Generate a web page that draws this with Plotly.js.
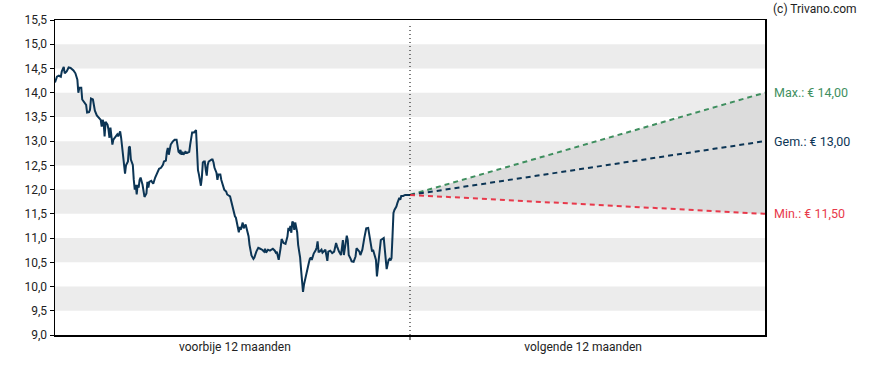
<!DOCTYPE html>
<html>
<head>
<meta charset="utf-8">
<script src="https://cdn.plot.ly/plotly-3.0.1.min.js"></script>
<style>
  html, body { margin: 0; padding: 0; background: #ffffff; }
  #chart { width: 888px; height: 370px; }
</style>
</head>
<body>
<div id="chart"></div>
<script>
// ---- Data ----
// History: day index over the past 12 months (0..365) and closing price (EUR)
const histDay = [0,2,4,6,7,9,10,12,14,16,19,21,23,24,25,27,28,30,32,33,35,36,37,39,41,43,45,47,48,49,50,51,52,54,55,56,57,58,59,60,62,64,65,66,67,68,70,71,72,73,75,76,77,78,79,80,81,82,83,84,85,86,87,88,90,91,92,94,95,96,97,99,101,103,105,107,109,111,112,114,115,116,117,118,119,121,123,125,126,127,128,129,130,131,132,134,136,138,139,140,141,143,144,145,146,147,148,149,150,151,152,153,154,155,156,157,158,161,162,163,164,166,167,168,170,171,173,174,176,177,180,182,184,185,186,187,188,189,190,191,193,194,196,197,198,199,200,201,202,204,205,207,209,211,213,215,216,217,219,221,223,224,226,227,228,230,232,233,235,237,239,240,241,242,243,244,245,246,247,248,249,250,252,253,254,255,256,257,258,259,260,261,262,263,264,265,266,268,269,270,271,272,274,275,276,278,280,281,283,285,287,289,290,291,292,293,294,295,296,297,298,299,300,301,302,304,305,307,309,310,311,313,314,316,318,319,320,322,323,324,325,326,327,328,329,330,331,332,333,334,335,338,339,340,341,343,344,345,346,347,348,349,351,352,353,354,355,356,358,360,362,365];
const histPrice = [14.21,14.33,14.35,14.33,14.44,14.53,14.40,14.44,14.52,14.51,14.46,14.40,14.27,14.00,14.10,14.10,13.86,13.80,13.75,13.59,13.60,13.65,13.88,13.86,13.63,13.53,13.49,13.44,13.30,13.44,13.38,13.10,13.40,13.34,13.24,13.07,13.28,13.07,12.93,13.03,13.10,13.14,13.10,13.16,13.20,13.07,12.72,12.51,12.33,12.50,12.58,12.87,12.89,12.62,12.56,12.51,12.20,12.00,12.10,11.90,12.10,12.04,12.20,12.25,12.10,11.96,11.85,11.92,12.16,12.04,12.16,12.18,12.12,12.25,12.35,12.43,12.45,12.51,12.58,12.60,12.78,12.86,12.72,12.89,12.93,12.99,13.03,13.03,12.93,12.78,12.76,12.82,12.72,12.78,12.72,12.78,12.76,12.78,12.93,13.10,13.18,13.18,13.20,13.23,12.82,12.40,12.31,12.20,12.08,12.25,12.56,12.58,12.58,12.41,12.29,12.51,12.58,12.62,12.62,12.56,12.45,12.35,12.20,12.31,12.31,12.20,12.06,12.00,11.96,11.90,11.86,11.69,11.55,11.45,11.42,11.34,11.21,11.12,11.23,11.17,11.32,11.20,11.28,11.20,11.17,11.04,10.86,10.76,10.64,10.57,10.60,10.72,10.80,10.78,10.76,10.72,10.78,10.70,10.76,10.74,10.78,10.78,10.74,10.70,10.72,10.55,10.80,10.98,10.90,10.88,11.03,11.21,11.15,11.25,11.11,11.34,11.32,11.17,11.32,11.21,11.12,10.86,10.60,10.35,10.10,9.89,10.04,10.14,10.22,10.35,10.43,10.49,10.57,10.60,10.55,10.64,10.68,10.75,10.80,10.93,10.72,10.72,10.76,10.70,10.72,10.76,10.53,10.72,10.74,10.69,10.72,10.90,10.83,10.74,10.72,10.69,10.65,10.80,10.96,10.65,10.76,10.93,11.05,10.96,10.65,10.57,10.52,10.51,10.62,10.79,10.76,10.72,10.65,10.76,11.00,11.15,11.20,11.21,11.07,10.96,10.86,10.72,10.76,10.69,10.57,10.55,10.21,10.40,10.65,10.72,10.96,11.00,10.72,10.59,10.36,10.55,10.57,10.54,10.59,11.03,11.52,11.58,11.65,11.72,11.79,11.83,11.79,11.87,11.87,11.89,11.89,11.89];

// Forecast: from today (day 365) to 12 months ahead (day 730)
const forecastDay = [365, 730];
const lastPrice = 11.89;
const targetMax = 14.00;
const targetAvg = 13.00;
const targetMin = 11.50;

// Labels
const periodLabels = ['voorbije 12 maanden', 'volgende 12 maanden'];
const periodLabelPos = [185, 543];
const targetLabels = ['Max.: € 14,00', 'Gem.: € 13,00', 'Min.: € 11,50'];
const yTickVals = [9.0, 9.5, 10.0, 10.5, 11.0, 11.5, 12.0, 12.5, 13.0, 13.5, 14.0, 14.5, 15.0, 15.5];
const bandStarts = [9.5, 10.5, 11.5, 12.5, 13.5, 14.5];
const credit = '(c) Trivano.com';

// ---- Styles ----
const navy = '#0c3555';
const green = '#3f8f5f';
const red = '#e8394b';
const fillGrey = '#dcdcdc';
const bandGrey = '#ececec';
const textCol = '#222222';

const traces = [
  { x: forecastDay, y: [lastPrice, targetMin], mode: 'lines', line: { width: 0, color: fillGrey }, hoverinfo: 'skip', showlegend: false },
  { x: forecastDay, y: [lastPrice, targetMax], mode: 'lines', line: { width: 0, color: fillGrey }, fill: 'tonexty', fillcolor: fillGrey, hoverinfo: 'skip', showlegend: false },
  { x: forecastDay, y: [lastPrice, targetMax], mode: 'lines', line: { width: 2, color: green, dash: '5px,4px' }, showlegend: false },
  { x: forecastDay, y: [lastPrice, targetAvg], mode: 'lines', line: { width: 2, color: navy, dash: '5px,4px' }, showlegend: false },
  { x: forecastDay, y: [lastPrice, targetMin], mode: 'lines', line: { width: 2, color: red, dash: '5px,4px' }, showlegend: false },
  { x: histDay, y: histPrice, mode: 'lines', line: { width: 2, color: navy }, showlegend: false }
];

const shapes = bandStarts.map(b => ({
  type: 'rect', xref: 'paper', yref: 'y', x0: 0, x1: 1, y0: b, y1: b + 0.5,
  fillcolor: bandGrey, line: { width: 0 }, layer: 'below'
}));
shapes.push({ type: 'line', xref: 'x', yref: 'paper', x0: forecastDay[0], x1: forecastDay[0], y0: 0, y1: 0.99,
  line: { color: '#000', width: 1, dash: '1px,3px' } });
shapes.push({ type: 'line', xref: 'x', yref: 'paper', x0: forecastDay[0], x1: forecastDay[0], y0: 0, y1: -0.016,
  line: { color: '#000', width: 1 } });

const targetVals = [targetMax, targetAvg, targetMin];
const targetCols = [green, navy, red];
const annotations = targetLabels.map((t, i) => ({
  x: forecastDay[1], y: targetVals[i], xref: 'x', yref: 'y', text: t, showarrow: false,
  xanchor: 'left', yanchor: 'middle', xshift: 7, font: { size: 12.5, color: targetCols[i], family: 'Roboto' }
}));
annotations.push({ x: 1, y: 1, xref: 'paper', yref: 'paper', text: credit, showarrow: false,
  xanchor: 'left', yanchor: 'middle', xshift: 6, yshift: 11, font: { size: 12, color: textCol, family: 'Roboto' } });

const layout = {
  width: 888, height: 370,
  margin: { l: 55, r: 123, t: 20, b: 35 },
  paper_bgcolor: '#ffffff', plot_bgcolor: '#ffffff',
  separators: ',.',
  font: { family: 'Roboto, sans-serif', size: 12, color: textCol },
  xaxis: {
    range: [0, 730], showgrid: false, zeroline: false,
    tickvals: periodLabelPos, ticktext: periodLabels, ticks: '',
    showline: true, linecolor: '#000', linewidth: 1.5, mirror: true,
    tickfont: { size: 12, color: textCol }
  },
  yaxis: {
    range: [9.0, 15.5], showgrid: false, zeroline: false,
    tickvals: yTickVals, tickformat: '.1f', ticks: 'outside', ticklen: 4, tickcolor: '#000',
    showline: true, linecolor: '#000', linewidth: 1.5, mirror: true,
    tickfont: { size: 12, color: textCol }
  },
  shapes: shapes,
  annotations: annotations,
  hovermode: false
};

Plotly.newPlot('chart', traces, layout, { displayModeBar: false, staticPlot: true });
</script>
</body>
</html>
